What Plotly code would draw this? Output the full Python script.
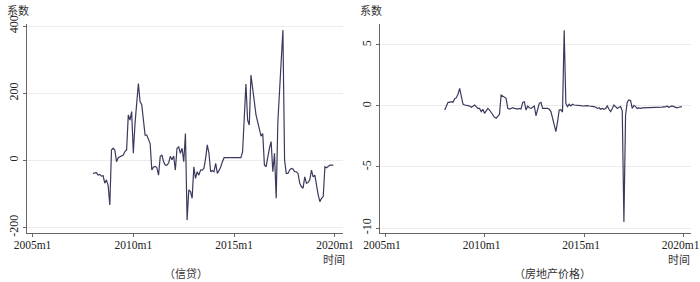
import plotly.graph_objects as go

# ---- data ----
start_year = 2008
credit = [
    -39, -37, -37, -44, -42, -47, -46, -68, -58, -75, -133, 31,
    36, 30, -4, 8, 10, 13, 16, 26, 31, 135, 120, 145,
    21, 110, 171, 229, 175, 166, 120, 75, 75, 60, 50, -29,
    -20, -18, -22, -44, 11, 16, -4, -14, -14, -8, 12, 2,
    13, -29, 36, 40, 21, 36, -4, 80, -178, -88, -93, -113,
    -19, -54, -34, -44, -29, -29, -24, 6, 46, 21, -34, -30,
    -34, -9, -39, -30, -20, -4, 8, 8, 8, 8, 8, 8,
    8, 8, 8, 8, 8, 25, 150, 227, 120, 105, 254, 205,
    175, 135, 112, 85, 72, 80, -14, -19, 15, 36, 56, -34,
    21, -113, 115, 215, 275, 388, 1, -39, -39, -29, -24, -26,
    -34, -34, -39, -68, -78, -83, -49, -68, -66, -58, -29, -49,
    -44, -78, -103, -123, -113, -108, -19, -22, -19, -14, -14, -14,
]
housing = [
    -0.33, 0.05, 0.3, 0.3, 0.35, 0.3, 0.6, 0.68, 0.96, 1.45, 0.68, 0.16,
    0.08, 0.03, 0.03, 0.0, -0.1, -0.02, 0.08, -0.05, -0.2, -0.2, -0.46, -0.27,
    -0.6, -0.4, -0.2, -0.33, -0.52, -0.68, -0.93, -1.0, -0.85, -0.68, 0.9, 0.82,
    0.7, 0.63, -0.2, -0.25, -0.2, -0.14, -0.2, -0.25, -0.25, -0.2, -0.25, 0.3,
    0.35, -0.33, 0.0, -0.14, -0.2, -0.1, 0.0, -0.8, -0.2, 0.22, 0.3, -0.2,
    -0.2, -0.2, -0.2, -0.27, -0.46, -1.0, -1.56, -2.1, -1.3, -0.33, -0.3, -0.5,
    6.2, 0.22, -0.05, 0.14, 0.0, 0.14, 0.08, 0.08, 0.05, 0.03, 0.03, 0.0,
    0.03, 0.0, 0.03, 0.0, 0.0, 0.0, -0.05, -0.1, -0.2, -0.14, -0.27, -0.2,
    -0.27, -0.2, 0.0, -0.27, -0.46, -0.2, 0.08, -0.05, -0.2, -0.1, -0.05, -0.4,
    -9.5, -0.74, 0.3, 0.49, 0.45, -0.2, 0.05, -0.05, -0.2, -0.15, -0.2, -0.15,
    -0.15, -0.15, -0.12, -0.15, -0.12, -0.12, -0.1, -0.12, -0.1, -0.1, -0.12, -0.1,
    -0.08, -0.08, 0.0, -0.1, -0.05, 0.0, -0.05, -0.1, -0.15, -0.1, -0.05, -0.05,
]
x_tick_vals = [2005, 2010, 2015, 2020]
x_tick_text = ["2005m1", "2010m1", "2015m1", "2020m1"]
left_y_ticks = [-200, 0, 200, 400]
left_y_text = ["-200", "0", "200", "400"]
right_y_ticks = [-10, -5, 0, 5]
right_y_text = ["-10", "-5", "0", "5"]
y_title = "系数"
x_title = "时间"
captions = ["（信贷）", "（房地产价格）"]

months_credit = [start_year + i / 12 for i in range(len(credit))]
months_housing = [start_year + i / 12 for i in range(len(housing))]

W, H = 700, 282
LINE = "#3a3a5e"
AXC = "#666666"
GRID = "#ececec"
SERIF = "Liberation Serif"
CJK = "Noto Sans CJK SC"

fig = go.Figure()
fig.add_trace(go.Scatter(x=months_credit, y=credit, mode="lines",
                         line=dict(color=LINE, width=1.2), xaxis="x", yaxis="y",
                         showlegend=False))
fig.add_trace(go.Scatter(x=months_housing, y=housing, mode="lines",
                         line=dict(color=LINE, width=1.2), xaxis="x2", yaxis="y2",
                         showlegend=False))

ydom = [1 - 233 / H, 1 - 24 / H]

def xax(dom, rng, shift):
    return dict(domain=dom, range=rng, tickvals=x_tick_vals, ticktext=x_tick_text,
                showgrid=False, zeroline=False, showline=True, linecolor=AXC,
                linewidth=1, ticks="outside", ticklen=3, tickcolor=AXC,
                automargin=False, ticklabeloverflow="allow", ticklabelshift=shift,
                ticklabelstandoff=-2,
                tickfont=dict(family=SERIF, size=11.5, color="#222"))

def yax(anchor, rng, ticks, text):
    return dict(domain=ydom, range=rng, tickvals=ticks, ticktext=text, anchor=anchor,
                showgrid=True, gridcolor=GRID, gridwidth=1, zeroline=False,
                showline=True, linecolor=AXC, linewidth=1, ticks="outside",
                ticklen=3, tickcolor=AXC, tickangle=-90, automargin=False,
                ticklabeloverflow="allow",
                tickfont=dict(family=SERIF, size=12, color="#222"))

fig.update_layout(
    width=W, height=H, margin=dict(l=0, r=0, t=0, b=0),
    paper_bgcolor="white", plot_bgcolor="white",
    xaxis=dict(**xax([27 / W, 343 / W], [2004.727, 2020.397], 0), anchor="y"),
    yaxis=yax("x", [-216.4, 406], left_y_ticks, left_y_text),
    xaxis2=dict(**xax([380 / W, 691 / W], [2004.749, 2020.37], -3), anchor="y2"),
    yaxis2=yax("x2", [-10.41, 6.72], right_y_ticks, right_y_text),
)

ann = []
for xl in (5, 358):
    ann.append(dict(text=y_title, x=xl / W, y=1 - 10 / H, xref="paper", yref="paper",
                    xanchor="left", yanchor="middle", showarrow=False,
                    font=dict(family=CJK, size=11, color="#333")))
for xr in (347, 692):
    ann.append(dict(text=x_title, x=xr / W, y=1 - 259 / H, xref="paper", yref="paper",
                    xanchor="right", yanchor="middle", showarrow=False,
                    font=dict(family=CJK, size=11, color="#333")))
for xc, txt in zip((186, 552), captions):
    ann.append(dict(text=txt, x=xc / W, y=1 - 273 / H, xref="paper", yref="paper",
                    xanchor="center", yanchor="middle", showarrow=False,
                    font=dict(family=CJK, size=11, color="#333")))
fig.update_layout(annotations=ann)

fig.write_html("out.html")
